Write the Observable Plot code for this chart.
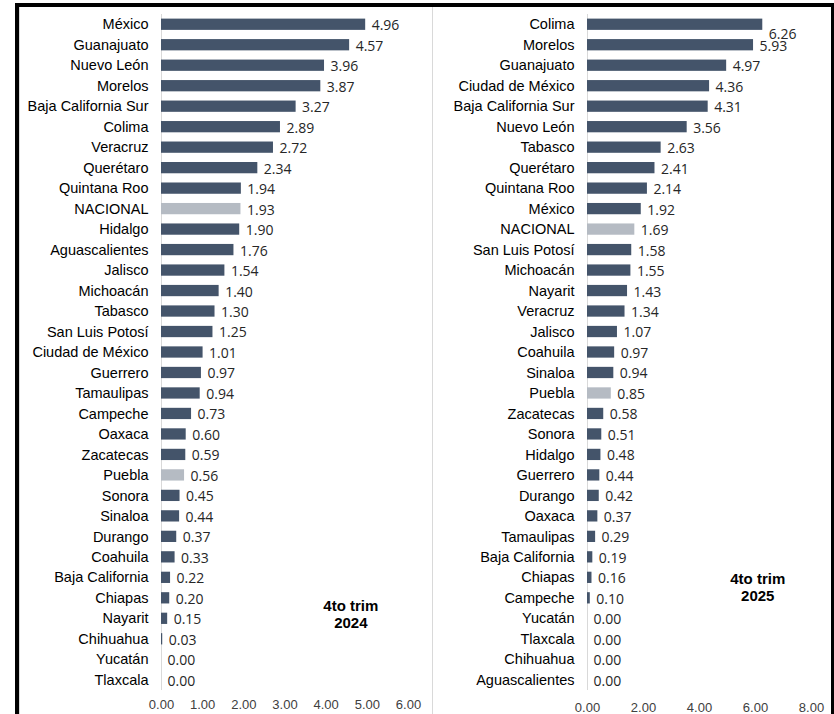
<!DOCTYPE html>
<html>
<head>
<meta charset="utf-8">
<script src="https://cdn.jsdelivr.net/npm/d3@7"></script>
<script src="https://cdn.jsdelivr.net/npm/@observablehq/plot@0.6"></script>
<style>
  html, body { margin: 0; padding: 0; background: #fff; }
  #wrap { position: relative; width: 834px; height: 714px; overflow: hidden; background: #fff; }
  .panel { position: absolute; top: 0; }
  .frame { position: absolute; background: #000; }
  .sep { position: absolute; background: #D9D9D9; }
</style>
</head>
<body>
<div id="wrap">
  <div class="panel" id="left" style="left:19px"></div>
  <div class="panel" id="right" style="left:433px"></div>
  <div class="frame" style="left:15px; top:3px; width:4px; height:711px"></div>
  <div class="sep" style="left:19px; top:7px; width:1px; height:707px"></div>
  <div class="frame" style="left:15px; top:3px; width:819px; height:4px"></div>
  <div class="frame" style="left:831px; top:3px; width:3px; height:711px"></div>
  <div class="sep" style="left:432px; top:7px; width:1px; height:707px"></div>
</div>
<script>
// ---- data ----
const statesLeft = ["México","Guanajuato","Nuevo León","Morelos","Baja California Sur","Colima","Veracruz","Querétaro","Quintana Roo","NACIONAL","Hidalgo","Aguascalientes","Jalisco","Michoacán","Tabasco","San Luis Potosí","Ciudad de México","Guerrero","Tamaulipas","Campeche","Oaxaca","Zacatecas","Puebla","Sonora","Sinaloa","Durango","Coahuila","Baja California","Chiapas","Nayarit","Chihuahua","Yucatán","Tlaxcala"];
const valuesLeft = [4.96,4.57,3.96,3.87,3.27,2.89,2.72,2.34,1.94,1.93,1.90,1.76,1.54,1.40,1.30,1.25,1.01,0.97,0.94,0.73,0.60,0.59,0.56,0.45,0.44,0.37,0.33,0.22,0.20,0.15,0.03,0.00,0.00];

const statesRight = ["Colima","Morelos","Guanajuato","Ciudad de México","Baja California Sur","Nuevo León","Tabasco","Querétaro","Quintana Roo","México","NACIONAL","San Luis Potosí","Michoacán","Nayarit","Veracruz","Jalisco","Coahuila","Sinaloa","Puebla","Zacatecas","Sonora","Hidalgo","Guerrero","Durango","Oaxaca","Tamaulipas","Baja California","Chiapas","Campeche","Yucatán","Tlaxcala","Chihuahua","Aguascalientes"];
const valuesRight = [6.26,5.93,4.97,4.36,4.31,3.56,2.63,2.41,2.14,1.92,1.69,1.58,1.55,1.43,1.34,1.07,0.97,0.94,0.85,0.58,0.51,0.48,0.44,0.42,0.37,0.29,0.19,0.16,0.10,0.00,0.00,0.00,0.00];

const highlighted = ["NACIONAL","Puebla"];
const ticksLeft = [0,1,2,3,4,5,6];
const ticksRight = [0,2,4,6,8];
const periodLeft = "4to trim\n2024";
const periodRight = "4to trim\n2025";

// ---- drawing ----
const DARK = "#44546A";
const LIGHT = "#B5BBC3";
const fmt = d3.format(".2f");

function panel(o) {
  const data = o.states.map((s, i) => ({state: s, value: o.values[i]}));
  const isHi = d => highlighted.includes(d.state);
  const shifted = d => o.shiftDown.includes(d.state);
  return Plot.plot({
    width: o.width,
    height: 714,
    marginTop: 14,
    marginBottom: 24,
    marginLeft: o.marginLeft,
    marginRight: o.marginRight,
    style: {fontFamily: "'Liberation Sans', Arial, sans-serif", background: "transparent", overflow: "visible"},
    x: {domain: [0, o.xMax]},
    y: {domain: o.states, paddingInner: 0.45, paddingOuter: 0.225, round: false},
    marks: [
      Plot.ruleX([0], {stroke: "#D9D9D9", strokeWidth: 1}),
      Plot.barX(data, {filter: d => !isHi(d), x: "value", y: "state", fill: DARK}),
      Plot.barX(data, {filter: isHi, x: "value", y: "state", fill: LIGHT}),
      Plot.text(data, {filter: d => !shifted(d), x: "value", y: "state", text: d => fmt(d.value),
        textAnchor: "start", dx: 6, dy: 1, fontSize: 14, fontFamily: "'Open Sans', sans-serif", fill: "#262626"}),
      Plot.text(data, {filter: shifted, x: "value", y: "state", text: d => fmt(d.value),
        textAnchor: "start", dx: 6, dy: 10, fontSize: 14, fontFamily: "'Open Sans', sans-serif", fill: "#262626"}),
      Plot.axisY({tickSize: 0, tickPadding: 13, fontSize: 14.5, fill: "#000", label: null}),
      Plot.axisX({ticks: o.ticks, tickFormat: fmt, tickSize: 0, tickPadding: o.xPad, fontSize: 13, fill: "#404040", label: null}),
      Plot.text([o.note], {x: () => o.noteX, y: () => o.noteY, dy: o.noteDy, text: d => d, fontWeight: "bold",
        fontSize: 15, lineHeight: 1.13, fill: "#000", textAnchor: "middle"})
    ]
  });
}

document.getElementById("left").append(panel({
  states: statesLeft, values: valuesLeft, xMax: 6, ticks: ticksLeft,
  width: 413, marginLeft: 142, marginRight: 24, xPad: 9,
  note: periodLeft, noteX: 4.6, noteY: "Nayarit", noteDy: -5, shiftDown: []
}));
document.getElementById("right").append(panel({
  states: statesRight, values: valuesRight, xMax: 8, ticks: ticksRight,
  width: 398, marginLeft: 154, marginRight: 20, xPad: 12,
  note: periodRight, noteX: 6.08, noteY: "Chiapas", noteDy: 9, shiftDown: ["Colima"]
}));
</script>
</body>
</html>
